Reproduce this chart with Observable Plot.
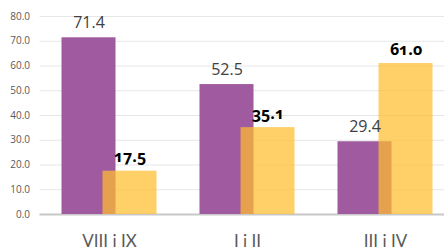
<!DOCTYPE html>
<html>
<head>
<meta charset="utf-8">
<script src="https://cdn.jsdelivr.net/npm/d3@7"></script>
<script src="https://cdn.jsdelivr.net/npm/@observablehq/plot@0.6"></script>
<style>
  html, body { margin: 0; padding: 0; background: #fff; overflow: hidden; }
  .onum { font-feature-settings: "onum" 1; font-variant-numeric: oldstyle-nums; }
  .xax text { font-family: Lato, sans-serif; }
</style>
</head>
<body>
<div id="chart"></div>
<script>
const categories = ["VIII i IX", "I i II", "III i IV"];
const seriesA = [71.4, 52.5, 29.4];
const seriesB = [17.5, 35.1, 61.0];
const yTicks = [0, 10, 20, 30, 40, 50, 60, 70, 80];

const dataA = categories.map((c, i) => ({cat: c, v: seriesA[i]}));
const dataB = categories.map((c, i) => ({cat: c, v: seriesB[i]}));
const fmt = d3.format(".1f");

const chart = Plot.plot({
  width: 444,
  height: 251,
  marginTop: 16,
  marginBottom: 37,
  marginLeft: 39.5,
  marginRight: 0,
  style: {fontFamily: "'Open Sans', sans-serif", background: "#fff"},
  x: {domain: categories, range: [39.5, 453.5], padding: 0, label: null},
  y: {domain: [0, 80], label: null},
  marks: [
    Plot.gridY(yTicks, {stroke: "#e6e6e6", strokeOpacity: 1}),
    Plot.axisY(yTicks, {tickSize: 0, tickPadding: 10, tickFormat: fmt, fontSize: 10, fill: "#595959", label: null}),
    Plot.ruleY([0], {stroke: "#c8c8c8", strokeWidth: 2}),
    Plot.barY(dataA, {x: "cat", y: "v", fill: "#A05BA0", insetLeft: 21.5, insetRight: 62.5}),
    Plot.barY(dataB, {x: "cat", y: "v", fill: "#FFBC2E", fillOpacity: 0.72, insetLeft: 62.5, insetRight: 21.5}),
    Plot.text(dataA, {x: "cat", y: "v", text: d => fmt(d.v), dx: -20.5, dy: -10, lineAnchor: "bottom", fontSize: 16, fill: "#404040"}),
    Plot.text(dataB, {x: "cat", y: "v", text: d => fmt(d.v), dx: 20.5, dy: -9, lineAnchor: "bottom", fontSize: 16, fontWeight: "bold", fill: "#000", className: "onum"}),
    Plot.axisX({tickSize: 0, tickPadding: 20, fontSize: 17, fill: "#595959", label: null, className: "xax"})
  ]
});
document.getElementById("chart").appendChild(chart);
</script>
</body>
</html>
